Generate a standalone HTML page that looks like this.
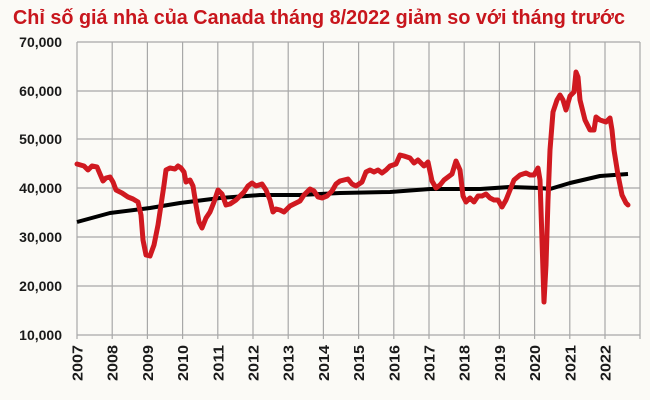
<!DOCTYPE html>
<html><head><meta charset="utf-8"><style>
html,body{margin:0;padding:0;background:#fbfaf6;}
svg{display:block}
</style></head><body>
<svg width="650" height="400" xmlns="http://www.w3.org/2000/svg">
<rect width="650" height="400" fill="#fbfaf6"/>
<text x="13" y="24" font-family="Liberation Sans, sans-serif" font-weight="bold" font-size="20" fill="#c8161d" textLength="612" lengthAdjust="spacingAndGlyphs">Chỉ số giá nhà của Canada tháng 8/2022 giảm so với tháng trước</text>
<g stroke="#a8a8a8" stroke-width="1.2">
<line x1="77" y1="42" x2="640" y2="42"/><line x1="77" y1="91" x2="640" y2="91"/><line x1="77" y1="139" x2="640" y2="139"/><line x1="77" y1="188" x2="640" y2="188"/><line x1="77" y1="237" x2="640" y2="237"/><line x1="77" y1="286" x2="640" y2="286"/><line x1="77" y1="335" x2="640" y2="335"/>
<line x1="77" y1="42" x2="77" y2="339"/><line x1="112.2" y1="42" x2="112.2" y2="339"/><line x1="147.4" y1="42" x2="147.4" y2="339"/><line x1="182.6" y1="42" x2="182.6" y2="339"/><line x1="217.8" y1="42" x2="217.8" y2="339"/><line x1="253" y1="42" x2="253" y2="339"/><line x1="288.2" y1="42" x2="288.2" y2="339"/><line x1="323.4" y1="42" x2="323.4" y2="339"/><line x1="358.6" y1="42" x2="358.6" y2="339"/><line x1="393.8" y1="42" x2="393.8" y2="339"/><line x1="429" y1="42" x2="429" y2="339"/><line x1="464.2" y1="42" x2="464.2" y2="339"/><line x1="499.4" y1="42" x2="499.4" y2="339"/><line x1="534.6" y1="42" x2="534.6" y2="339"/><line x1="569.8" y1="42" x2="569.8" y2="339"/><line x1="605" y1="42" x2="605" y2="339"/><line x1="640" y1="42" x2="640" y2="339"/>
</g>
<g font-family="Liberation Sans, sans-serif" font-weight="bold" font-size="14" fill="#1a1a1a" text-anchor="end">
<text x="62" y="47">70,000</text><text x="62" y="96">60,000</text><text x="62" y="144">50,000</text><text x="62" y="193">40,000</text><text x="62" y="242">30,000</text><text x="62" y="291">20,000</text><text x="62" y="340">10,000</text>
</g>
<g font-family="Liberation Sans, sans-serif" font-weight="bold" font-size="15" fill="#1a1a1a" text-anchor="end">
<text transform="translate(82.5,345) rotate(-90)" textLength="36" lengthAdjust="spacingAndGlyphs">2007</text><text transform="translate(117.7,345) rotate(-90)" textLength="36" lengthAdjust="spacingAndGlyphs">2008</text><text transform="translate(152.9,345) rotate(-90)" textLength="36" lengthAdjust="spacingAndGlyphs">2009</text><text transform="translate(188.1,345) rotate(-90)" textLength="36" lengthAdjust="spacingAndGlyphs">2010</text><text transform="translate(223.3,345) rotate(-90)" textLength="36" lengthAdjust="spacingAndGlyphs">2011</text><text transform="translate(258.5,345) rotate(-90)" textLength="36" lengthAdjust="spacingAndGlyphs">2012</text><text transform="translate(293.7,345) rotate(-90)" textLength="36" lengthAdjust="spacingAndGlyphs">2013</text><text transform="translate(328.9,345) rotate(-90)" textLength="36" lengthAdjust="spacingAndGlyphs">2014</text><text transform="translate(364.1,345) rotate(-90)" textLength="36" lengthAdjust="spacingAndGlyphs">2015</text><text transform="translate(399.3,345) rotate(-90)" textLength="36" lengthAdjust="spacingAndGlyphs">2016</text><text transform="translate(434.5,345) rotate(-90)" textLength="36" lengthAdjust="spacingAndGlyphs">2017</text><text transform="translate(469.7,345) rotate(-90)" textLength="36" lengthAdjust="spacingAndGlyphs">2018</text><text transform="translate(504.9,345) rotate(-90)" textLength="36" lengthAdjust="spacingAndGlyphs">2019</text><text transform="translate(540.1,345) rotate(-90)" textLength="36" lengthAdjust="spacingAndGlyphs">2020</text><text transform="translate(575.3,345) rotate(-90)" textLength="36" lengthAdjust="spacingAndGlyphs">2021</text><text transform="translate(610.5,345) rotate(-90)" textLength="36" lengthAdjust="spacingAndGlyphs">2022</text>
</g>
<polyline fill="none" stroke="#000" stroke-width="4" stroke-linejoin="round" points="77,222 110,213 150,208 180,203 220,198 260,195 300,195 340,193 390,192 430,189 480,189 510,187 540,188 550,189 570,183 600,176 628,174"/>
<polyline fill="none" stroke="#d01920" stroke-width="5" stroke-linejoin="round" stroke-linecap="round" points="77,164 84,166 88,170 92,166 97,167 100,174 103,181 106,178 110,177 113,182 116,190 122,193 128,197 133,199 138,202 141,215 143,240 146,255 150,256 154,245 158,225 161,205 164,185 166,170 170,168 175,169 178,166 181,168 184,172 186,182 190,180 193,186 196,205 199,222 202,228 206,218 210,212 214,202 218,190 222,194 226,205 230,204 236,200 240,196 244,192 248,186 252,183 256,186 262,184 266,190 270,200 273,212 276,209 280,210 284,212 290,206 296,203 300,201 304,195 310,189 314,191 318,197 322,198 327,196 332,191 336,184 340,181 344,180 348,179 352,184 356,186 362,182 366,172 370,170 374,172 378,170 382,173 386,170 390,166 396,164 400,155 404,156 410,158 414,163 418,160 424,166 428,162 432,181 436,188 440,185 444,180 452,174 456,161 460,170 463,196 466,202 470,198 474,202 478,196 482,196 486,194 490,198 494,200 498,200 502,207 506,200 510,190 514,180 520,175 526,173 530,175 534,175 538,168 540,180 542,240 544,302 546,265 548,200 550,150 553,112 557,100 560,95 563,100 566,110 570,96 574,92 576,72 578,77 580,100 585,120 590,130 594,130 596,117 600,120 606,122 610,118 612,130 614,150 618,175 622,195 626,203 628,205"/>
</svg>
</body></html>
